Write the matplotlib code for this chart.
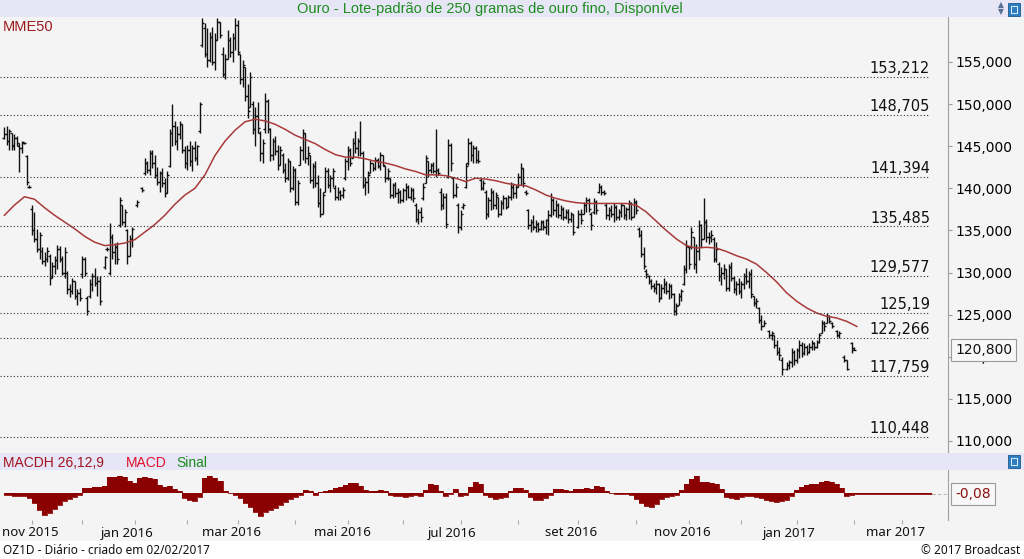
import numpy as np
import matplotlib.pyplot as plt
from matplotlib.patches import Rectangle

nan = np.nan

# daily bars (R$/g), one per trading session starting at session 2
opens = [
    146.0, 146.5, 145.6, 146.6, 145.0, 146.0, 145.0, 144.8, 145.4, 143.8,
    140.2, 137.5, 135.0, 134.0, 132.8, 132.5, 131.4, 131.6, 132.0, 129.6,
    130.8, 131.5, 132.8, 131.6, 130.0, 130.0, 128.0, 127.8, 129.0, 127.2,
    127.6, 129.8, 131.6, 127.0, 127.2, 128.6, 129.6, 128.8, 129.0, nan,
    130.6, 132.8, 130.0, 134.2, 132.4, 133.0, 135.6, 138.0, 136.0, 135.0,
    132.0, 134.0, nan, 138.0, nan, 140.0, 141.8, 143.0, 142.2, 144.2,
    143.0, 141.6, 140.8, 141.8, 140.6, 139.4, 142.6, 146.6, 147.4, 145.6,
    146.4, 147.6, 144.6, 143.0, 144.6, 143.2, 144.8, 143.6, 146.8, 157.0,
    159.0, 156.0, 155.2, 158.0, 155.0, 157.6, 159.8, 156.0, 153.6, 155.4,
    157.6, 156.2, 157.8, 159.4, 156.0, 153.0, 154.4, 151.0, 149.6, 150.0,
    147.0, 148.6, 146.6, 144.2, 147.0, 150.4, 147.0, 144.0, 145.6, 144.4,
    142.8, 144.0, 142.2, 141.2, 143.2, 140.0, 142.2, 138.4, 142.8, 144.6,
    146.6, 143.6, 144.0, 141.0, 142.6, 140.6, 138.2, 137.0, 139.6, 142.0,
    140.4, 141.2, 140.0, 139.0, 139.6, 139.2, 141.2, 143.2, 144.6, 143.6,
    145.4, 144.8, 145.6, 144.2, 140.4, 140.8, 141.8, 143.0, 142.4, 143.4,
    142.6, 144.0, 142.6, 141.2, 141.2, 139.2, 140.4, 139.4, 139.6, 138.6,
    139.8, 140.2, 139.0, 139.8, 138.0, 136.4, 137.2, 138.8, 140.6, 143.2,
    142.2, 142.8, 142.0, 142.2, 139.6, 138.0, 139.0, 141.4, 145.2, 141.2,
    139.2, 138.0, 135.4, 137.8, 140.2, 143.0, 145.4, 144.0, 144.8, 143.4,
    141.0, 140.0, 139.6, 137.0, 138.6, 139.6, 138.0, 139.0, 137.0, 138.2,
    138.8, 137.8, 139.0, 140.2, 139.4, 140.2, 141.4, 142.4, 139.6, 137.4,
    135.6, 136.0, 135.4, 135.8, 135.2, 136.0, 135.4, 136.2, 136.8, 138.6,
    137.4, 138.0, 136.8, 137.6, 136.6, 137.2, 136.4, 137.0, nan, 135.4,
    137.0, 137.0, 138.0, 138.6, 137.0, 137.2, 138.4, 139.6, 140.2, 139.6,
    138.0, 136.8, 137.4, 137.0, 137.8, 136.6, 137.2, 138.0, 136.8, 137.6,
    138.2, 136.6, 138.4, 135.2, 134.4, 132.2, 130.2, 129.6, 129.0, 128.4,
    128.2, 128.6, 127.0, 128.2, 128.6, 127.8, 128.4, 127.4, 125.4, 126.2,
    127.2, 128.6, 130.4, 133.0, 133.0, 134.2, 131.0, 132.6, 135.6, 134.0,
    136.0, 134.2, 134.2, 134.0, 131.6, 131.0, 129.6, 130.0, 130.4, 128.2,
    130.6, 129.4, 128.0, 128.6, 127.8, 128.6, 129.6, 129.0, 129.8, 127.2,
    126.4, 125.8, 124.4, 123.6, nan, 123.0, 122.6, 122.6, 121.4, 120.6,
    119.6, nan, 118.6, 119.0, 119.4, 120.6, 119.6, 120.8, 121.4, 120.4,
    121.2, 120.6, 121.2, 121.6, 121.2, 121.8, 122.8, 124.0, 124.0, 124.8,
    124.0, nan, 123.0, 122.6, nan, 120.0, 119.6, nan, 121.6, 121.0,
]
highs = [
    147.3, 147.4, 147.0, 146.6, 146.5, 146.2, 145.4, 145.6, 145.5, 144.0,
    140.4, 138.0, 137.2, 135.2, 134.8, 133.0, 132.4, 133.0, 132.2, 131.2,
    132.0, 133.3, 133.2, 132.0, 133.0, 130.2, 128.6, 129.3, 129.0, 128.0,
    128.2, 132.0, 131.8, 127.2, 129.2, 130.0, 130.5, 129.6, 129.6, nan,
    132.0, 133.0, 135.9, 134.6, 133.5, 133.6, 139.0, 138.0, 137.6, 135.2,
    134.5, 135.4, nan, 138.6, nan, 140.2, 143.6, 143.2, 144.5, 144.6,
    144.0, 142.5, 142.0, 142.4, 141.2, 142.0, 147.0, 150.0, 148.0, 147.4,
    148.0, 147.6, 145.0, 145.2, 145.6, 145.2, 145.6, 145.2, 150.2, 160.2,
    159.6, 159.0, 158.6, 159.2, 158.4, 160.2, 159.8, 156.8, 156.0, 158.8,
    158.0, 158.4, 160.2, 160.0, 156.0, 155.2, 154.4, 152.4, 153.8, 150.4,
    149.6, 150.2, 146.8, 145.8, 151.3, 150.6, 147.2, 146.0, 146.2, 145.2,
    145.0, 144.2, 143.0, 143.6, 143.2, 142.6, 142.4, 141.0, 145.0, 147.0,
    146.6, 145.0, 144.0, 143.0, 143.2, 141.6, 140.0, 139.6, 142.5, 142.4,
    141.6, 142.4, 140.4, 140.2, 139.8, 140.2, 143.6, 145.0, 144.8, 146.0,
    146.8, 146.0, 148.0, 144.4, 141.4, 142.0, 143.4, 143.0, 143.7, 143.6,
    144.3, 144.0, 142.6, 142.4, 141.2, 140.6, 140.8, 140.0, 139.8, 140.0,
    140.6, 140.4, 140.2, 140.0, 138.2, 137.6, 137.8, 140.6, 144.0, 143.2,
    143.0, 143.1, 147.0, 142.4, 140.0, 139.4, 139.4, 145.8, 145.4, 141.4,
    140.6, 138.2, 137.4, 138.2, 143.0, 146.0, 145.6, 145.2, 145.0, 144.6,
    141.2, 141.0, 139.8, 139.0, 140.0, 139.8, 139.6, 139.0, 138.6, 139.2,
    139.0, 139.2, 140.7, 140.6, 140.4, 141.8, 143.0, 142.4, 139.8, 137.6,
    136.4, 136.8, 136.2, 136.0, 136.2, 136.2, 136.4, 137.4, 139.4, 138.8,
    138.6, 138.2, 138.0, 137.8, 137.6, 137.6, 137.2, 137.0, nan, 137.4,
    137.6, 138.4, 139.0, 138.8, 137.2, 138.8, 138.6, 140.6, 140.4, 139.8,
    138.2, 137.8, 138.0, 138.2, 138.0, 137.6, 138.2, 138.0, 137.8, 138.6,
    138.4, 138.8, 138.6, 135.4, 135.0, 133.0, 130.4, 129.7, 129.2, 128.8,
    129.1, 128.8, 128.6, 129.3, 129.0, 128.8, 128.6, 127.6, 126.4, 127.6,
    128.0, 130.9, 133.9, 133.0, 135.4, 134.2, 133.4, 136.2, 135.8, 138.8,
    136.4, 134.8, 135.0, 134.2, 133.6, 131.2, 130.6, 131.0, 130.4, 131.0,
    131.2, 129.6, 129.0, 129.4, 129.0, 130.0, 130.5, 130.2, 130.4, 127.2,
    127.0, 125.9, 125.0, 124.4, nan, 123.2, 123.0, 122.6, 122.0, 121.2,
    120.0, nan, 119.4, 119.6, 121.0, 120.8, 121.0, 122.0, 121.8, 121.6,
    121.4, 121.6, 122.0, 121.8, 122.0, 122.8, 124.4, 124.2, 125.2, 125.0,
    124.1, nan, 123.2, 123.0, nan, 120.2, 119.6, nan, 121.7, 121.2,
]
lows = [
    145.8, 145.2, 144.6, 144.5, 144.6, 145.0, 141.9, 144.2, 145.3, 140.4,
    140.0, 134.5, 133.6, 132.4, 131.6, 131.0, 130.8, 131.2, 128.5, 129.4,
    129.8, 130.4, 131.2, 129.7, 129.3, 127.5, 127.1, 127.4, 126.8, 126.1,
    126.6, 129.3, 129.6, 125.0, 127.0, 127.8, 128.4, 127.2, 126.2, nan,
    130.4, 132.6, 129.7, 131.6, 131.0, 131.0, 135.4, 135.6, 135.4, 131.0,
    132.0, 133.0, nan, 137.8, nan, 139.6, 141.6, 141.8, 141.6, 142.4,
    141.2, 140.4, 139.6, 140.2, 139.0, 139.4, 142.5, 145.0, 145.2, 144.6,
    145.8, 144.2, 142.4, 142.2, 142.6, 142.0, 143.2, 142.8, 146.6, 156.8,
    155.6, 154.4, 155.0, 154.6, 154.0, 157.6, 157.8, 153.2, 153.0, 155.4,
    155.6, 155.0, 156.4, 155.8, 152.4, 152.0, 150.4, 148.4, 149.6, 146.4,
    145.0, 146.6, 143.2, 143.0, 146.6, 146.6, 143.2, 143.4, 144.0, 142.2,
    142.8, 141.8, 140.8, 141.0, 139.6, 139.8, 138.0, 138.0, 142.8, 143.4,
    143.0, 142.8, 140.6, 140.0, 140.2, 137.8, 136.6, 137.0, 139.6, 140.0,
    139.6, 140.2, 138.6, 138.6, 138.6, 138.8, 141.0, 142.2, 142.6, 143.6,
    144.2, 143.8, 143.8, 140.0, 139.2, 139.4, 141.8, 142.0, 142.2, 142.4,
    142.2, 142.6, 140.8, 141.0, 138.8, 138.8, 139.0, 138.2, 138.2, 138.4,
    138.6, 138.8, 138.6, 138.4, 136.0, 135.8, 136.0, 138.6, 140.6, 141.4,
    141.8, 141.8, 141.4, 141.6, 137.4, 137.6, 135.3, 141.2, 142.0, 138.8,
    139.0, 134.7, 135.0, 137.6, 140.0, 142.8, 143.2, 143.0, 143.0, 143.0,
    139.8, 139.8, 136.4, 136.6, 137.4, 137.6, 137.6, 136.6, 136.8, 137.6,
    137.6, 137.8, 138.6, 138.8, 138.8, 140.2, 140.4, 140.2, 139.2, 135.2,
    134.8, 135.0, 134.8, 134.8, 135.0, 135.0, 134.6, 134.5, 136.6, 136.8,
    136.6, 136.5, 136.4, 136.2, 136.4, 135.9, 136.0, 134.4, nan, 135.3,
    135.8, 137.0, 137.2, 137.2, 135.0, 137.0, 137.0, 139.4, 139.2, 139.2,
    136.4, 136.2, 136.6, 136.0, 136.2, 136.2, 136.6, 136.4, 136.2, 136.4,
    136.2, 136.6, 137.0, 134.2, 131.8, 130.4, 129.4, 128.6, 128.0, 127.7,
    127.4, 126.5, 126.8, 127.6, 127.5, 126.8, 127.0, 125.0, 125.0, 126.2,
    126.6, 128.5, 130.0, 130.4, 132.8, 130.4, 130.0, 131.5, 133.0, 134.0,
    133.6, 133.4, 133.6, 131.2, 131.2, 129.0, 128.5, 129.2, 127.8, 127.8,
    129.0, 127.6, 127.3, 127.4, 127.0, 128.0, 128.6, 128.2, 127.0, 126.0,
    125.8, 124.0, 123.2, 123.6, nan, 122.2, 122.0, 121.0, 120.2, 119.6,
    117.8, nan, 118.4, 118.6, 118.8, 119.0, 119.2, 119.8, 120.0, 120.2,
    120.2, 120.4, 120.8, 120.8, 121.0, 121.6, 122.8, 123.0, 124.0, 124.0,
    123.4, nan, 122.4, 122.2, nan, 119.4, 118.4, nan, 120.4, 120.8,
]
closes = [
    146.5, 145.6, 146.8, 145.2, 146.0, 145.4, 144.8, 145.5, 145.4, 140.8,
    140.2, 135.0, 134.0, 132.8, 134.5, 131.4, 131.6, 132.6, 129.4, 130.8,
    131.5, 132.8, 131.6, 130.0, 132.4, 128.0, 127.8, 129.0, 127.2, 127.6,
    127.0, 131.6, 130.0, 125.4, 128.6, 129.6, 128.8, 129.0, 126.6, nan,
    131.8, 132.8, 134.2, 132.4, 133.0, 131.6, 138.6, 136.0, 137.2, 132.0,
    134.0, 135.2, nan, 138.4, nan, 139.8, 143.0, 142.2, 144.2, 143.0,
    141.6, 140.8, 141.8, 140.6, 139.4, 141.6, 146.6, 147.4, 145.6, 146.4,
    147.6, 144.6, 143.0, 144.6, 143.2, 144.8, 143.6, 145.0, 150.0, 159.6,
    156.0, 155.2, 158.0, 155.0, 157.6, 159.8, 158.2, 153.6, 155.4, 157.6,
    156.2, 157.8, 159.4, 156.2, 153.0, 154.6, 151.0, 149.2, 153.2, 147.0,
    148.6, 147.2, 144.2, 145.4, 150.4, 147.0, 144.0, 145.6, 144.4, 142.8,
    144.6, 142.2, 141.2, 143.2, 140.0, 142.2, 138.4, 140.6, 144.6, 146.6,
    143.6, 144.2, 141.0, 142.6, 140.6, 138.2, 137.0, 139.2, 142.0, 140.4,
    141.2, 142.0, 139.0, 139.6, 139.2, 139.8, 143.2, 144.6, 143.0, 145.4,
    144.8, 145.6, 144.2, 140.4, 140.8, 141.6, 143.0, 142.4, 143.4, 142.6,
    144.0, 142.8, 141.2, 142.0, 139.2, 140.4, 139.4, 139.6, 138.6, 139.8,
    140.2, 139.0, 139.8, 138.8, 136.4, 137.2, 136.6, 140.2, 143.6, 142.2,
    142.8, 142.0, 142.2, 141.8, 138.0, 139.0, 135.8, 145.2, 143.0, 139.2,
    140.2, 135.4, 137.0, 138.0, 142.6, 145.4, 144.0, 144.8, 143.4, 143.2,
    140.0, 140.6, 137.0, 138.6, 139.6, 138.0, 139.2, 137.0, 138.2, 138.8,
    137.8, 139.0, 140.2, 139.4, 140.2, 141.4, 142.4, 140.6, 139.4, 135.6,
    136.0, 135.4, 135.8, 135.2, 136.0, 135.4, 136.2, 136.8, 138.6, 137.4,
    138.0, 136.8, 137.6, 136.6, 137.2, 136.4, 137.0, 134.8, nan, 137.0,
    136.2, 138.0, 138.6, 137.6, 135.6, 138.4, 137.4, 140.2, 139.6, 139.4,
    136.8, 137.4, 137.0, 137.8, 136.6, 137.2, 138.0, 136.8, 137.6, 138.2,
    136.6, 138.4, 137.4, 134.4, 132.2, 130.8, 129.8, 129.0, 128.4, 128.2,
    128.6, 127.0, 128.2, 128.6, 127.8, 128.4, 127.4, 125.4, 126.0, 127.2,
    127.8, 130.4, 133.2, 131.0, 134.8, 131.0, 132.6, 135.6, 134.0, 136.0,
    134.2, 134.2, 134.4, 131.6, 132.8, 129.6, 130.0, 130.4, 128.2, 130.6,
    129.4, 128.0, 128.6, 127.8, 128.6, 129.6, 129.0, 129.8, 127.4, 126.4,
    126.6, 124.4, 123.6, 124.0, nan, 122.6, 122.8, 121.4, 120.6, 120.2,
    118.6, nan, 119.0, 119.4, 120.6, 119.6, 120.8, 121.4, 120.4, 121.2,
    120.6, 121.2, 121.6, 121.2, 121.8, 122.6, 124.0, 123.6, 124.8, 124.2,
    123.6, nan, 122.6, 122.8, nan, 119.6, 118.6, nan, 120.8, 120.8,
]

# MME50, read every 4 sessions starting at session 2
mme50 = [
    136.8, 138.0, 139.0, 138.7, 137.7, 136.8, 136.0, 135.2, 134.3, 133.6,
    133.2, 133.3, 133.5, 133.9, 134.8, 135.7, 136.8, 138.1, 139.2, 140.0,
    141.6, 143.9, 145.6, 146.9, 147.9, 148.2, 148.0, 147.6, 147.0, 146.3,
    145.8, 145.3, 144.6, 144.0, 143.7, 143.7, 143.5, 143.2, 143.0, 142.7,
    142.3, 142.0, 141.6, 141.6, 141.5, 141.2, 140.8, 141.2, 141.1, 140.9,
    140.6, 140.4, 140.3, 139.8, 139.2, 138.8, 138.5, 138.3, 138.2, 138.2,
    138.2, 138.2, 138.2, 138.0, 137.2, 136.1, 135.0, 134.0, 133.2, 132.9,
    133.0, 132.9, 132.5, 132.0, 131.6, 131.0, 130.0, 128.9, 127.6, 126.6,
    125.8, 125.2, 124.8, 124.6, 124.2, 123.6,
]

# MACD histogram 26,12,9, read every 2 sessions starting at session 2
macdh = [
    -0.2, -0.2, -0.3, -0.3, -0.3, -0.5, -1.0, -1.7, -2.2, -2.0,
    -1.6, -1.2, -0.8, -0.6, -0.4, -0.2, 0.5, 0.5, 0.6, 0.6,
    0.7, 1.6, 1.6, 1.7, 1.6, 1.2, 1.0, 1.5, 1.6, 1.5,
    1.4, 0.8, 0.6, 0.7, 0.4, 0.2, -0.5, -0.7, -0.8, -0.4,
    1.5, 1.7, 1.5, 1.2, 0.2, 0.0, -0.2, -0.5, -1.0, -1.4,
    -1.9, -2.3, -1.9, -1.7, -1.5, -1.2, -0.9, -0.6, -0.4, -0.2,
    0.3, 0.2, -0.2, 0.1, 0.2, 0.3, 0.5, 0.6, 0.8, 1.0,
    1.0, 0.7, 0.3, 0.2, 0.2, 0.3, 0.2, -0.2, -0.3, -0.3,
    -0.4, -0.3, -0.2, -0.3, 0.3, 0.9, 0.8, 0.2, -0.3, -0.1,
    0.4, -0.3, -0.2, 0.6, 1.1, 0.9, -0.2, -0.4, -0.6, -0.5,
    -0.4, 0.2, 0.5, 0.5, 0.3, -0.4, -0.7, -0.7, -0.5, -0.2,
    0.4, 0.4, 0.3, 0.2, 0.4, 0.4, 0.5, 0.4, 0.7, 0.6,
    0.2, 0.0, -0.1, -0.1, -0.1, -0.2, -0.6, -1.0, -1.3, -1.4,
    -1.1, -0.6, -0.4, -0.3, -0.2, 0.3, 0.9, 1.4, 1.7, 1.1,
    1.1, 1.0, 0.9, 0.4, -0.4, -0.5, -0.6, -0.4, -0.3, -0.3,
    -0.4, -0.5, -0.7, -0.8, -0.9, -0.8, -0.7, -0.3, 0.3, 0.6,
    0.8, 0.9, 0.9, 1.1, 1.2, 1.1, 0.9, 0.5, -0.3, -0.2,
    -0.08, -0.08, -0.08, -0.08, -0.08, -0.08, -0.08, -0.08,
    -0.08, -0.08, -0.08, -0.08, -0.08, -0.08, -0.08, -0.08,
]

# first session of each month (ticks) and where the month labels sit
month_sessions = [13, 33, 54, 75, 95, 118, 139, 161, 184, 207, 231, 254, 275, 296, 318, 341, 360]
label_sessions = [12.2, 50.9, 92.4, 136.7, 180.5, 228.0, 272.3, 315.0, 357.6]
month_labels = ['nov 2015', 'jan 2016', 'mar 2016', 'mai 2016', 'jul 2016',
                'set 2016', 'nov 2016', 'jan 2017', 'mar 2017']

levels = [153.212, 148.705, 141.394, 135.485, 129.577, 125.19, 122.266, 117.759, 110.448]
level_labels = ['153,212', '148,705', '141,394', '135,485', '129,577', '125,19', '122,266', '117,759', '110,448']

price_ticks = [110, 115, 120, 125, 130, 135, 140, 145, 150, 155]
last_price = 120.8

W, H = 1024, 559
BG = '#f4f4f4'
BAND = '#e6e6f7'
GREEN = '#1e8c1e'

plt.rcParams['font.family'] = 'DejaVu Sans'
fig = plt.figure(figsize=(W / 100, H / 100), dpi=100)
fig.patch.set_facecolor(BG)


def box(x0, y0, x1, y1):
    return [x0 / W, 1 - y1 / H, (x1 - x0) / W, (y1 - y0) / H]


# header bands and bottom strip
for y0, y1, col in [(0, 17, BAND), (453, 470, BAND), (541, 559, 'white')]:
    fig.patches.append(Rectangle((0, 1 - y1 / H), 1, (y1 - y0) / H, transform=fig.transFigure,
                                 facecolor=col, edgecolor='none', zorder=0))

fig.text(490 / W, 1 - 9 / H, 'Ouro - Lote-padrão de 250 gramas de ouro fino, Disponível',
         ha='center', va='center', color=GREEN, fontsize=10.5, family='Liberation Sans')
fig.text(1001 / W, 1 - 5 / H, '▲', ha='center', va='center', color='#5a7090', fontsize=5.5)
fig.text(1001 / W, 1 - 12 / H, '▼', ha='center', va='center', color='#5a7090', fontsize=5.5)
for y in (3, 455):
    fig.patches.append(Rectangle((1008 / W, 1 - (y + 13) / H), 12 / W, 13 / H, transform=fig.transFigure,
                                 facecolor='#2f7fc0', edgecolor='#1d5a8c', lw=0.6, zorder=3))
    fig.patches.append(Rectangle((1011 / W, 1 - (y + 10) / H), 6 / W, 7 / H, transform=fig.transFigure,
                                 facecolor='none', edgecolor='white', lw=0.6, zorder=4))

# ---- price panel ----
ax = fig.add_axes(box(0, 17, 948, 452))
ax.set_facecolor(BG)
sess = np.arange(2, 2 + len(opens))
o = np.array(opens)
h = np.array(highs)
l = np.array(lows)
c = np.array(closes)
ok = ~np.isnan(h)
ax.vlines(sess[ok], l[ok], h[ok], color='#111111', lw=1.0)
ax.hlines(o[ok], sess[ok] - 0.8, sess[ok], color='#111111', lw=1.0)
ax.hlines(c[ok], sess[ok], sess[ok] + 0.8, color='#111111', lw=1.0)

ema_sess = np.arange(2, 2 + 4 * len(mme50), 4)
ax.plot(ema_sess, mme50, color='#a83a3a', lw=1.1)

x_end = 371.2
ax.hlines(levels, 0.24, x_end, color='#333333', lw=0.8, linestyles=(0, (1, 2)))
for lev, lab in zip(levels, level_labels):
    ax.annotate(lab, (x_end, lev), xytext=(0, 0.5), textcoords='offset points',
                ha='right', va='bottom', fontsize=10.5, color='#111111')

ax.set_xlim(0.24, 378.4)
ax.set_ylim(108.69, 160.34)
ax.yaxis.tick_right()
ax.set_yticks(price_ticks)
ax.set_yticklabels(['{:.3f}'.format(v).replace('.', ',') for v in price_ticks])
ax.tick_params(axis='y', direction='out', length=3, color='#999999', labelsize=10, pad=2)
ax.set_xticks([])
for s in ['left', 'top', 'bottom']:
    ax.spines[s].set_visible(False)
ax.spines['right'].set_color('#a0a0a0')

ax.text(1 + 7 / 948, last_price, '120,800', transform=ax.get_yaxis_transform(), ha='left', va='center',
        fontsize=10, color='#111111', zorder=10,
        bbox=dict(boxstyle='square,pad=0.3', facecolor='#f8f8f8', edgecolor='#9a9a9a', lw=0.8))

fig.text(3 / W, 1 - 27 / H, 'MME50', ha='left', va='center', color='#9b1b1b', fontsize=10.5,
         family='Liberation Sans')

# ---- MACD panel ----
mx = fig.add_axes(box(0, 470, 948, 520))
mx.set_facecolor(BG)
msess = np.arange(2, 2 + 2 * len(macdh), 2)
mx.fill_between(msess, macdh, 0, step='mid', color='#8b0000', lw=0)
mx.step(msess, macdh, where='mid', color='#8b0000', lw=0.6)
mx.plot([372, 378.4], [-0.08, -0.08], color='#bbbbbb', lw=0.8, ls=(0, (3, 2)))
mx.set_xlim(0.24, 378.4)
mx.set_ylim(-2.7, 2.3)
mx.set_yticks([])
mx.set_xticks(month_sessions)
mx.set_xticklabels([])
mx.tick_params(axis='x', direction='out', length=3, color='#aaaaaa')
for s in ['left', 'top', 'bottom']:
    mx.spines[s].set_visible(False)
mx.spines['right'].set_color('#a0a0a0')
for s, lab in zip(label_sessions, month_labels):
    mx.text(s, -0.26, lab, transform=mx.get_xaxis_transform(), ha='center', va='center',
            fontsize=9.5, family='Noto Sans', color='#111111')
mx.text(1 + 7 / 948, -0.08, '-0,08', ha='left', va='center', transform=mx.get_yaxis_transform(),
        fontsize=10, color='#8b1010', zorder=10,
        bbox=dict(boxstyle='square,pad=0.3', facecolor='#f8f8f8', edgecolor='#9a9a9a', lw=0.8))

fig.text(3 / W, 1 - 463 / H, 'MACDH 26,12,9', ha='left', va='center', color='#a0141e', fontsize=10,
         family='Liberation Sans')
fig.text(126 / W, 1 - 463 / H, 'MACD', ha='left', va='center', color='#e0102a', fontsize=10,
         family='Liberation Sans')
fig.text(176 / W, 1 - 463 / H, 'Sinal', ha='left', va='center', color=GREEN, fontsize=10,
         family='Liberation Sans')

fig.text(3 / W, 1 - 550 / H, 'OZ1D - Diário - criado em 02/02/2017', ha='left', va='center',
         fontsize=8.5, family='Noto Sans', color='#111111')
fig.text(1020 / W, 1 - 550 / H, '© 2017 Broadcast', ha='right', va='center',
         fontsize=8.5, family='Noto Sans', color='#111111')

fig.savefig('out.png', dpi=100, facecolor=fig.get_facecolor())
